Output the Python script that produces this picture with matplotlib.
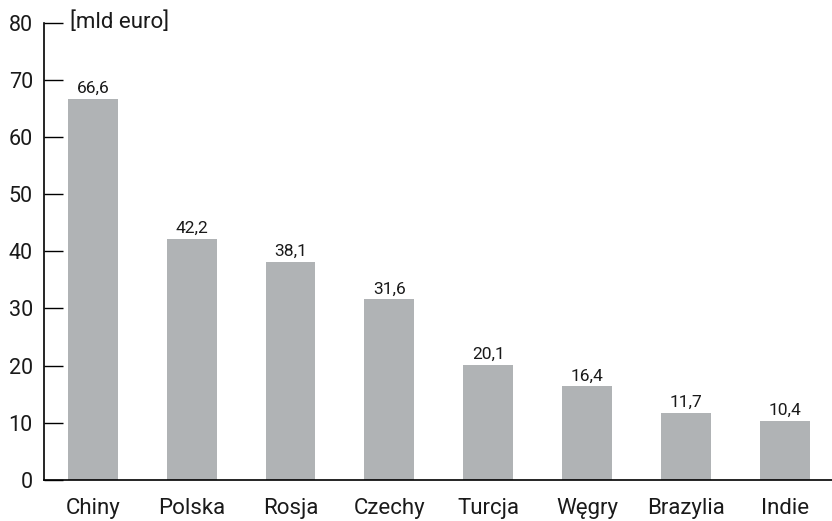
import matplotlib.pyplot as plt
import numpy as np

# Data
countries = ['Chiny', 'Polska', 'Rosja', 'Czechy', 'Turcja', 'Węgry', 'Brazylia', 'Indie']
values = [66.6, 42.2, 38.1, 31.6, 20.1, 16.4, 11.7, 10.4]
yticks = [0, 10, 20, 30, 40, 50, 60, 70, 80]

plt.rcParams['font.family'] = ['Roboto', 'DejaVu Sans']

fig = plt.figure(figsize=(8.32, 5.21), dpi=100)
ax = fig.add_axes([0.0529, 0.0787, 0.9471, 0.878])

x = np.arange(len(countries))
bars = ax.bar(x, values, width=0.505, color='#b0b3b5', zorder=2)

for xi, v in zip(x, values):
    ax.text(xi, v + 0.5, f'{v:.1f}'.replace('.', ','), ha='center', va='bottom',
            fontsize=12.5, color='#1a1a1a')

ax.set_xlim(-0.495, 7.48)
ax.set_ylim(0, 80)
ax.set_yticks(yticks)
ax.set_xticks(x)
ax.set_xticklabels(countries, fontsize=16, color='#1a1a1a')
ax.tick_params(axis='y', direction='in', length=13.5, width=1, pad=8,
               labelsize=15.5, labelcolor='#1a1a1a')
ax.tick_params(axis='x', length=0, pad=13)

for s in ['top', 'right']:
    ax.spines[s].set_visible(False)
ax.spines['left'].set_linewidth(1.2)
ax.spines['bottom'].set_linewidth(1.2)

ax.text(-0.235, 80, '[mld euro]', ha='left', va='center', fontsize=16,
        color='#1a1a1a', clip_on=False)

plt.savefig('out.png', dpi=100)
